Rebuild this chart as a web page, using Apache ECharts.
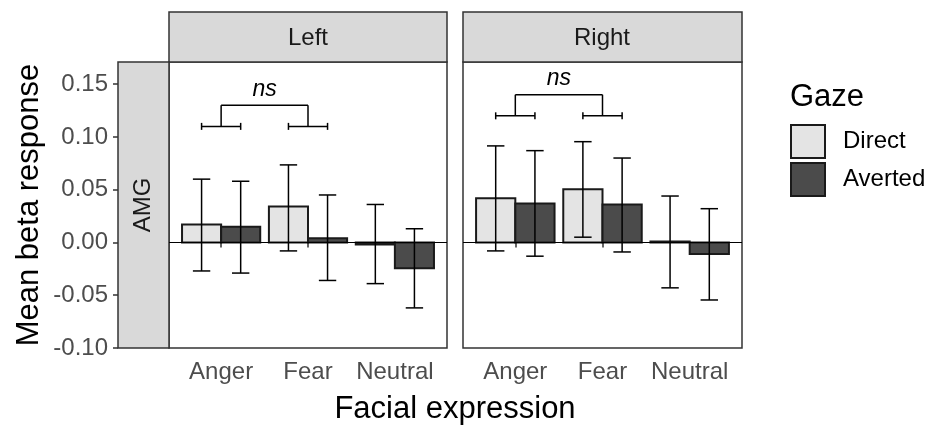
<!DOCTYPE html>
<html>
<head>
<meta charset="utf-8">
<script src="https://cdn.jsdelivr.net/npm/echarts@6/dist/echarts.min.js"></script>
<style>
  html, body { margin: 0; padding: 0; background: #fff; }
  #chart { width: 928px; height: 427px; }
</style>
</head>
<body>
<div id="chart"></div>
<script>
// facial expression categories and facet names
const categories = ['Anger', 'Fear', 'Neutral'];
const panels = ['Left', 'Right'];
const yTicks = [-0.1, -0.05, 0, 0.05, 0.1, 0.15];

// mean beta response per gaze, one value per category (Left panel)
const leftDirect = [0.017, 0.034, -0.002];
const leftDirectLow = [-0.027, -0.008, -0.039];
const leftDirectHigh = [0.060, 0.0735, 0.036];
const leftAverted = [0.015, 0.004, -0.0245];
const leftAvertedLow = [-0.029, -0.036, -0.062];
const leftAvertedHigh = [0.058, 0.045, 0.013];

// Right panel
const rightDirect = [0.042, 0.0505, 0.001];
const rightDirectLow = [-0.008, 0.005, -0.043];
const rightDirectHigh = [0.0915, 0.0955, 0.044];
const rightAverted = [0.037, 0.036, -0.011];
const rightAvertedLow = [-0.013, -0.009, -0.0545];
const rightAvertedHigh = [0.087, 0.080, 0.032];

// "ns" brackets: whisker level and top level per panel
const bracketLow = [0.110, 0.120];
const bracketHigh = [0.130, 0.140];
const bracketLabel = 'ns';

const FONT = 'Liberation Sans, Arial, sans-serif';
const DODGE = 0.225;   // half of dodge width 0.9
const BAR_HALF = 0.225;
const CAP_HALF = 0.1;
const DIRECT_FILL = '#e4e4e4';
const AVERTED_FILL = '#4b4b4b';
const EDGE = '#1a1a1a';

const panelData = [
  { direct: leftDirect, dLow: leftDirectLow, dHigh: leftDirectHigh,
    averted: leftAverted, aLow: leftAvertedLow, aHigh: leftAvertedHigh },
  { direct: rightDirect, dLow: rightDirectLow, dHigh: rightDirectHigh,
    averted: rightAverted, aLow: rightAvertedLow, aHigh: rightAvertedHigh }
];

function barRender(sign, fill) {
  return function (params, api) {
    let x = api.value(0) + sign * DODGE;
    let v = api.value(1);
    let a = api.coord([x - BAR_HALF, v]);
    let b = api.coord([x + BAR_HALF, 0]);
    return {
      type: 'rect',
      shape: { x: a[0], y: Math.min(a[1], b[1]), width: b[0] - a[0], height: Math.abs(b[1] - a[1]) },
      style: { fill: fill, stroke: EDGE, lineWidth: 2 }
    };
  };
}

function errRender(sign) {
  return function (params, api) {
    let x = api.value(0) + sign * DODGE;
    let lo = api.coord([x, api.value(1)]);
    let hi = api.coord([x, api.value(2)]);
    let l1 = api.coord([x - CAP_HALF, api.value(1)]);
    let r1 = api.coord([x + CAP_HALF, api.value(1)]);
    let l2 = api.coord([x - CAP_HALF, api.value(2)]);
    let r2 = api.coord([x + CAP_HALF, api.value(2)]);
    let st = { stroke: '#000', lineWidth: 1.5 };
    return {
      type: 'group',
      children: [
        { type: 'line', shape: { x1: lo[0], y1: lo[1], x2: hi[0], y2: hi[1] }, style: st },
        { type: 'line', shape: { x1: l1[0], y1: l1[1], x2: r1[0], y2: r1[1] }, style: st },
        { type: 'line', shape: { x1: l2[0], y1: l2[1], x2: r2[0], y2: r2[1] }, style: st }
      ]
    };
  };
}

function bracketRender(params, api) {
  let c1 = api.value(0), c2 = api.value(1), lo = api.value(2), hi = api.value(3);
  let st = { stroke: '#000', lineWidth: 1.5 };
  let kids = [];
  [c1, c2].forEach(c => {
    let a = api.coord([c - DODGE, lo]);
    let b = api.coord([c + DODGE, lo]);
    let m = api.coord([c, lo]);
    let t = api.coord([c, hi]);
    kids.push({ type: 'line', shape: { x1: a[0], y1: a[1], x2: b[0], y2: b[1] }, style: st });
    kids.push({ type: 'line', shape: { x1: a[0], y1: a[1] - 3.5, x2: a[0], y2: a[1] + 3.5 }, style: st });
    kids.push({ type: 'line', shape: { x1: b[0], y1: b[1] - 3.5, x2: b[0], y2: b[1] + 3.5 }, style: st });
    kids.push({ type: 'line', shape: { x1: m[0], y1: m[1], x2: t[0], y2: t[1] }, style: st });
  });
  let t1 = api.coord([c1, hi]);
  let t2 = api.coord([c2, hi]);
  kids.push({ type: 'line', shape: { x1: t1[0], y1: t1[1], x2: t2[0], y2: t2[1] }, style: st });
  kids.push({
    type: 'text',
    x: (t1[0] + t2[0]) / 2, y: t1[1] - 16,
    style: { text: bracketLabel, fill: '#000', font: 'italic 23px ' + FONT, align: 'center', verticalAlign: 'middle' }
  });
  return { type: 'group', children: kids };
}

let grids = [
  { left: 169, right: 481, top: 62, bottom: 79 },
  { left: 463, right: 186, top: 62, bottom: 79 }
].map(g => Object.assign(g, { show: true, borderColor: '#333', borderWidth: 1.5, backgroundColor: '#fff' }));

let xAxes = panels.map((p, i) => ({
  type: 'value', gridIndex: i, min: 0.4, max: 3.6,
  axisLine: { show: false },
  splitLine: { show: false },
  axisTick: { show: true, customValues: [1, 2, 3], length: 5, lineStyle: { color: '#333', width: 1.5 } },
  axisLabel: {
    customValues: [1, 2, 3], margin: 12, color: '#4d4d4d', fontSize: 24, fontFamily: FONT,
    formatter: v => categories[Math.round(v) - 1]
  }
}));

let yAxes = panels.map((p, i) => ({
  type: 'value', gridIndex: i, min: -0.1, max: 0.171,
  splitLine: { show: false },
  axisLine: { show: false },
  offset: i === 0 ? 51 : 0,
  name: i === 0 ? 'Mean beta response' : '',
  nameLocation: 'middle', nameGap: 73,
  nameTextStyle: { fontSize: 31, color: '#000', fontFamily: FONT },
  axisTick: { show: i === 0, customValues: yTicks, length: 5, lineStyle: { color: '#333', width: 1.5 } },
  axisLabel: {
    show: i === 0, customValues: yTicks, margin: 10, color: '#4d4d4d', fontSize: 24, fontFamily: FONT,
    formatter: v => v.toFixed(2)
  }
}));

let series = [];
panelData.forEach((d, i) => {
  series.push({
    name: 'Direct', type: 'custom', xAxisIndex: i, yAxisIndex: i,
    itemStyle: { color: DIRECT_FILL },
    renderItem: barRender(-1, DIRECT_FILL),
    data: categories.map((c, k) => [k + 1, d.direct[k]])
  });
  series.push({
    name: 'Averted', type: 'custom', xAxisIndex: i, yAxisIndex: i,
    itemStyle: { color: AVERTED_FILL },
    renderItem: barRender(1, AVERTED_FILL),
    data: categories.map((c, k) => [k + 1, d.averted[k]]),
    markLine: {
      silent: true, symbol: 'none', label: { show: false },
      lineStyle: { color: '#000', width: 1, type: 'solid' },
      data: [{ yAxis: 0 }]
    }
  });
  series.push({
    type: 'custom', xAxisIndex: i, yAxisIndex: i, z: 5,
    renderItem: errRender(-1),
    data: categories.map((c, k) => [k + 1, d.dLow[k], d.dHigh[k]])
  });
  series.push({
    type: 'custom', xAxisIndex: i, yAxisIndex: i, z: 5,
    renderItem: errRender(1),
    data: categories.map((c, k) => [k + 1, d.aLow[k], d.aHigh[k]])
  });
  series.push({
    type: 'custom', xAxisIndex: i, yAxisIndex: i, z: 5,
    renderItem: bracketRender,
    data: [[1, 2, bracketLow[i], bracketHigh[i]]]
  });
});

let chart = echarts.init(document.getElementById('chart'), null, { renderer: 'canvas' });
chart.setOption({
  animation: false,
  backgroundColor: '#fff',
  textStyle: { fontFamily: FONT },
  grid: grids,
  xAxis: xAxes,
  yAxis: yAxes,
  legend: {
    orient: 'vertical', left: 790, top: 124, padding: 0,
    itemWidth: 34, itemHeight: 33, itemGap: 3,
    selectedMode: false,
    textStyle: { fontSize: 24, color: '#000', fontFamily: FONT, padding: [0, 0, 0, 13] },
    data: [
      { name: 'Direct', icon: 'rect', itemStyle: { color: DIRECT_FILL, borderColor: EDGE, borderWidth: 2 } },
      { name: 'Averted', icon: 'rect', itemStyle: { color: AVERTED_FILL, borderColor: EDGE, borderWidth: 2 } }
    ]
  },
  graphic: [
    // facet strips
    { type: 'rect', shape: { x: 169, y: 12, width: 278, height: 50 }, style: { fill: '#d9d9d9', stroke: '#333', lineWidth: 1.5 } },
    { type: 'text', x: 308, y: 38, style: { text: panels[0], font: '24px ' + FONT, fill: '#1a1a1a', align: 'center', verticalAlign: 'middle' } },
    { type: 'rect', shape: { x: 463, y: 12, width: 279, height: 50 }, style: { fill: '#d9d9d9', stroke: '#333', lineWidth: 1.5 } },
    { type: 'text', x: 602, y: 38, style: { text: panels[1], font: '24px ' + FONT, fill: '#1a1a1a', align: 'center', verticalAlign: 'middle' } },
    { type: 'rect', shape: { x: 118, y: 62, width: 51, height: 286 }, style: { fill: '#d9d9d9', stroke: '#333', lineWidth: 1.5 } },
    { type: 'text', x: 143, y: 205, rotation: Math.PI / 2, style: { text: 'AMG', font: '24px ' + FONT, fill: '#1a1a1a', align: 'center', verticalAlign: 'middle' } },
    // axis / legend titles
    { type: 'text', x: 455, y: 409, style: { text: 'Facial expression', font: '31px ' + FONT, fill: '#000', align: 'center', verticalAlign: 'middle' } },
    { type: 'text', x: 790, y: 97, style: { text: 'Gaze', font: '31px ' + FONT, fill: '#000', align: 'left', verticalAlign: 'middle' } }
  ],
  series: series
});
</script>
</body>
</html>
